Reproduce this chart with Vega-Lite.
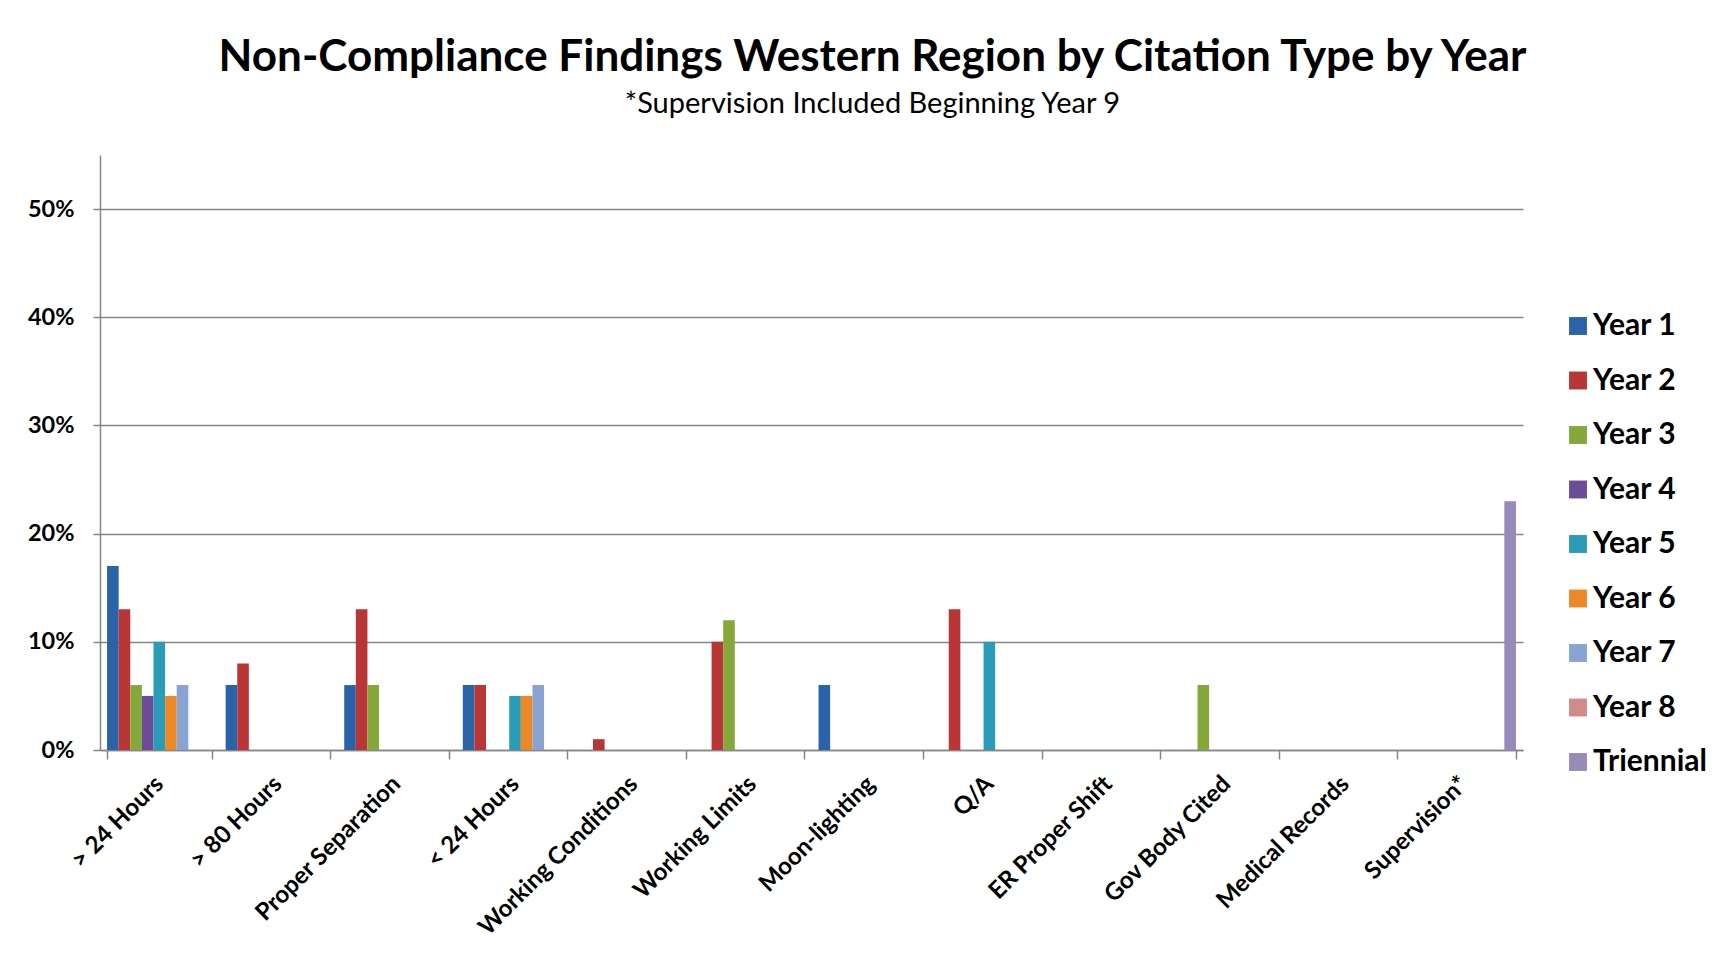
{
  "$schema": "https://vega.github.io/schema/vega-lite/v6.json",
  "width": 1423,
  "height": 595,
  "autosize": {"type": "none"},
  "padding": {"left": 100, "top": 155, "right": 209, "bottom": 210},
  "background": "white",
  "title": {
    "text": "Non-Compliance Findings Western Region by Citation Type by Year",
    "subtitle": "*Supervision Included Beginning Year 9",
    "anchor": "middle",
    "frame": "group",
    "dx": 61,
    "offset": 36,
    "font": "Lato",
    "fontSize": 44,
    "fontWeight": "bold",
    "color": "black",
    "subtitleFont": "Lato",
    "subtitleFontSize": 29,
    "subtitleColor": "black",
    "subtitlePadding": 10
  },
  "data": {
    "values": [
      {"citation": "> 24 Hours", "series": "Year 1", "value": 0.17},
      {"citation": "> 24 Hours", "series": "Year 2", "value": 0.13},
      {"citation": "> 24 Hours", "series": "Year 3", "value": 0.06},
      {"citation": "> 24 Hours", "series": "Year 4", "value": 0.05},
      {"citation": "> 24 Hours", "series": "Year 5", "value": 0.10},
      {"citation": "> 24 Hours", "series": "Year 6", "value": 0.05},
      {"citation": "> 24 Hours", "series": "Year 7", "value": 0.06},
      {"citation": "> 80 Hours", "series": "Year 1", "value": 0.06},
      {"citation": "> 80 Hours", "series": "Year 2", "value": 0.08},
      {"citation": "Proper Separation", "series": "Year 1", "value": 0.06},
      {"citation": "Proper Separation", "series": "Year 2", "value": 0.13},
      {"citation": "Proper Separation", "series": "Year 3", "value": 0.06},
      {"citation": "< 24 Hours", "series": "Year 1", "value": 0.06},
      {"citation": "< 24 Hours", "series": "Year 2", "value": 0.06},
      {"citation": "< 24 Hours", "series": "Year 5", "value": 0.05},
      {"citation": "< 24 Hours", "series": "Year 6", "value": 0.05},
      {"citation": "< 24 Hours", "series": "Year 7", "value": 0.06},
      {"citation": "Working Conditions", "series": "Year 2", "value": 0.01},
      {"citation": "Working Limits", "series": "Year 2", "value": 0.10},
      {"citation": "Working Limits", "series": "Year 3", "value": 0.12},
      {"citation": "Moon-lighting", "series": "Year 1", "value": 0.06},
      {"citation": "Q/A", "series": "Year 2", "value": 0.13},
      {"citation": "Q/A", "series": "Year 5", "value": 0.10},
      {"citation": "Gov Body Cited", "series": "Year 3", "value": 0.06},
      {"citation": "Supervision*", "series": "Triennial", "value": 0.23}
    ]
  },
  "mark": {"type": "bar"},
  "encoding": {
    "x": {
      "field": "citation",
      "type": "nominal",
      "scale": {
        "domain": ["> 24 Hours", "> 80 Hours", "Proper Separation", "< 24 Hours", "Working Conditions", "Working Limits", "Moon-lighting", "Q/A", "ER Proper Shift", "Gov Body Cited", "Medical Records", "Supervision*"],
        "paddingInner": 0.119,
        "paddingOuter": 0.0595
      },
      "axis": {
        "title": null,
        "labelAngle": -45,
        "labelAlign": "right",
        "labelBaseline": "middle",
        "labelFont": "Lato",
        "labelFontSize": 24,
        "labelFontWeight": "bold",
        "labelColor": "black",
        "labelLimit": 400,
        "labelPadding": 21,
        "tickBand": "extent",
        "tickSize": 9,
        "tickColor": "#868686",
        "tickWidth": 1.5,
        "domainColor": "#868686",
        "domainWidth": 1.5,
        "grid": false
      }
    },
    "xOffset": {
      "field": "series",
      "scale": {
        "domain": ["Year 1", "Year 2", "Year 3", "Year 4", "Year 5", "Year 6", "Year 7", "Year 8", "Triennial"],
        "paddingInner": 0,
        "paddingOuter": 0
      }
    },
    "y": {
      "field": "value",
      "type": "quantitative",
      "scale": {"domain": [0, 0.55], "nice": false},
      "axis": {
        "title": null,
        "values": [0, 0.1, 0.2, 0.3, 0.4, 0.5],
        "format": ".0%",
        "labelFont": "Lato",
        "labelFontSize": 23.5,
        "labelFontWeight": "bold",
        "labelColor": "black",
        "labelPadding": 19,
        "tickSize": 7,
        "tickColor": "#868686",
        "tickWidth": 1.5,
        "domainColor": "#868686",
        "domainWidth": 1.5,
        "gridColor": "#868686",
        "gridWidth": 1.5
      }
    },
    "color": {
      "field": "series",
      "type": "nominal",
      "scale": {
        "domain": ["Year 1", "Year 2", "Year 3", "Year 4", "Year 5", "Year 6", "Year 7", "Year 8", "Triennial"],
        "range": ["#2B63A8", "#BA3636", "#84A83A", "#6C4B99", "#2A9CB8", "#EC8826", "#89A4D2", "#D08C8A", "#988ABA"]
      },
      "legend": {
        "title": null,
        "orient": "none",
        "legendX": 1463,
        "legendY": 156,
        "symbolType": "square",
        "symbolSize": 320,
        "symbolStrokeWidth": 0,
        "labelFont": "Lato",
        "labelFontSize": 30,
        "labelFontWeight": "bold",
        "labelColor": "black",
        "labelOffset": 0,
        "rowPadding": 24.5
      }
    }
  },
  "config": {"view": {"stroke": null}}
}
